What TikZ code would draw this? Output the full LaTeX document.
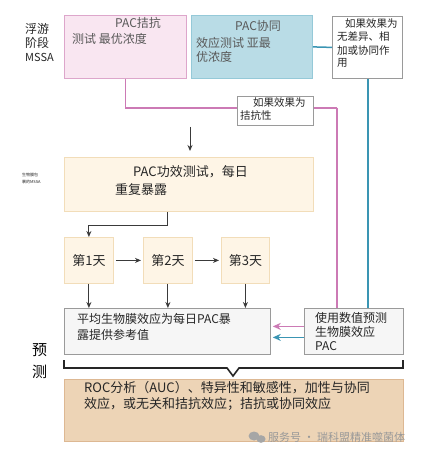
\documentclass[tikz,border=0pt]{standalone}
\usepackage{fontspec}
\setmainfont{Noto Sans CJK SC}
\usetikzlibrary{arrows.meta}
\definecolor{pinkfill}{HTML}{F9E6F1}
\definecolor{pinkdraw}{HTML}{DDA6CB}
\definecolor{pinkline}{HTML}{CC7AB5}
\definecolor{bluefill}{HTML}{B9DCE6}
\definecolor{bluedraw}{HTML}{95C9D8}
\definecolor{blueline}{HTML}{3A95B3}
\definecolor{creamfill}{HTML}{FEF5E6}
\definecolor{creamdraw}{HTML}{F2DDB9}
\definecolor{grayfill}{HTML}{F6F6F6}
\definecolor{graydraw}{HTML}{9A9A9A}
\definecolor{tanfill}{HTML}{EDD4B6}
\definecolor{tandraw}{HTML}{DDB893}
\definecolor{txtc}{HTML}{262626}
\definecolor{arrc}{HTML}{3A3A3A}
\begin{document}
\begin{tikzpicture}[x=1pt,y=-1pt,
  box/.style={rectangle, inner sep=0pt, anchor=north west, line width=0.8pt},
  lbl/.style={inner sep=0pt, anchor=west, text=txtc},
  arr/.style={-{Stealth[length=6pt,width=5pt]}, line width=0.9pt, draw=arrc},
  pinkarr/.style={-{Stealth[length=8pt,width=7pt]}, line width=1.4pt, draw=pinkline},
  bluearr/.style={-{Stealth[length=8pt,width=7pt]}, line width=1.4pt, draw=blueline},
  fa/.style={font=\fontsize{12}{14}\selectfont},
  fb/.style={font=\fontsize{10.5}{12}\selectfont},
  fc/.style={font=\fontsize{13}{15}\selectfont}]
\useasboundingbox[fill=white] (0,0) rectangle (429,454);

% left labels
\node[lbl,fa] at (25,29) {浮游};
\node[lbl,fa] at (25,43) {阶段};
\node[lbl,font=\fontsize{11}{13}\selectfont] at (25,57) {MSSA};
\node[lbl,font=\fontsize{4}{5}\selectfont] at (22,175) {生物膜包};
\node[lbl,font=\fontsize{4}{5}\selectfont] at (22,182) {裹的MSSA};
\node[lbl,font=\fontsize{15}{17}\selectfont,text=black] at (32,350) {预};
\node[lbl,font=\fontsize{15}{17}\selectfont,text=black] at (32,372) {测};

% top boxes
\node[box, fill=pinkfill, draw=pinkdraw, minimum width=122pt, minimum height=63pt] (pink) at (64,15) {};
\node[box, fill=bluefill, draw=bluedraw, minimum width=121pt, minimum height=63pt] (blue) at (191,15) {};
\node[lbl,fa,text=black!65] at (115,23) {PAC拮抗};
\node[lbl,fa,text=black!65] at (72,39) {测试 最优浓度};
\node[lbl,fa,text=black!65] at (235,26) {PAC协同};
\node[lbl,fa,text=black!65] at (196,43) {效应测试 亚最};
\node[lbl,fa,text=black!65] at (196,57) {优浓度};

% connectors (drawn before notes)
\coordinate (pk) at (337,108);
\draw[pinkline, line width=1.5pt] (pink.south) |- (pk);

\node[box, fill=white, draw=graydraw, minimum width=70pt, minimum height=62pt] (note1) at (332,16) {};
\node[lbl,fb] at (345,24) {如果效果为};
\node[lbl,fb] at (337,37) {无差异、相};
\node[lbl,fb] at (337,51) {加或协同作};
\node[lbl,fb] at (337,63) {用};

\node[box, fill=white, draw=graydraw, minimum width=76pt, minimum height=29pt] (note2) at (237,96) {};
\node[lbl,fb] at (253,103) {如果效果为};
\node[lbl,fb] at (240,116) {拮抗性};

\draw[blueline, line width=1.5pt] (blue.east) -- (note1.west);

% main efficacy box
\coordinate (start) at (190,127);
\node[box, fill=creamfill, draw=creamdraw, minimum width=249pt, minimum height=54pt] (main) at (64,157) {};
\node[lbl,fc] at (133,172) {PAC功效测试，每日};
\node[lbl,fc] at (115,190) {重复暴露};
\draw[arr, shorten >=6pt] (start) -- (start |- main.north);

% day boxes
\node[box, fill=creamfill, draw=creamdraw, minimum width=49pt, minimum height=46pt, fc, text=txtc] (d1) at (64,237) {第1天};
\node[box, fill=creamfill, draw=creamdraw, minimum width=49pt, minimum height=46pt, fc, text=txtc] (d2) at (143,237) {第2天};
\node[box, fill=creamfill, draw=creamdraw, minimum width=48pt, minimum height=46pt, fc, text=txtc] (d3) at (221,237) {第3天};
\draw[arr] ([xshift=-21.5pt]main.south) -- ++(0,14) -| (d1.north);
\draw[arr, shorten <=2pt, shorten >=2pt] (d1.east) -- (d2.west);
\draw[arr, shorten <=2pt, shorten >=2pt] (d2.east) -- (d3.west);

% average and right boxes
\node[box, fill=grayfill, draw=graydraw, minimum width=206pt, minimum height=46pt] (avg) at (64,308) {};
\node[lbl,fa] at (77,319) {平均生物膜效应为每日PAC暴};
\node[lbl,fa] at (77,335) {露提供参考值};
\node[box, fill=grayfill, draw=graydraw, minimum width=99pt, minimum height=46pt] (right) at (304,308) {};
\node[lbl,fa] at (315,318) {使用数值预测};
\node[lbl,fa] at (315,332) {生物膜效应};
\node[lbl,fa] at (315,346) {PAC};
\draw[arr] (d1.south) -- (d1.south |- avg.north);
\draw[arr] (d2.south) -- (d2.south |- avg.north);
\draw[arr] (d3.south) -- (d3.south |- avg.north);

% colored verticals and arrows
\draw[pinkline, line width=1.5pt] (pk) -- (pk |- right.north);
\draw[blueline, line width=1.5pt] ([xshift=0.5pt]note1.south) -- ([xshift=0.5pt]note1.south |- right.north);
\draw[pinkarr, shorten >=2pt] ([yshift=5pt]right.west) -- ([yshift=5pt]avg.east);
\draw[bluearr, shorten >=2pt] ([yshift=-6pt]right.west) -- ([yshift=-6pt]avg.east);

% bracket
\draw[line width=1.6pt, draw=black!85] (64,360) -- (64,368) -- (227,368) -- (233,376) -- (239,368) -- (403,368) -- (403,360);

% bottom box
\node[box, fill=tanfill, draw=tandraw, minimum width=339pt, minimum height=62pt] (bottom) at (64,379) {};
\node[lbl,fc] at (84,388) {ROC分析（AUC）、特异性和敏感性，加性与协同};
\node[lbl,fc] at (84,404) {效应，或无关和拮抗效应；拮抗或协同效应};

% watermark
\fill[black!35] (254,436) ellipse (5.5pt and 4.5pt);
\fill[black!35] (261,439) ellipse (4.5pt and 3.8pt);
\node[lbl,font=\fontsize{11}{13}\selectfont,text=black!40] at (268,437) {服务号 · 瑞科盟精准噬菌体};
\end{tikzpicture}
\end{document}
